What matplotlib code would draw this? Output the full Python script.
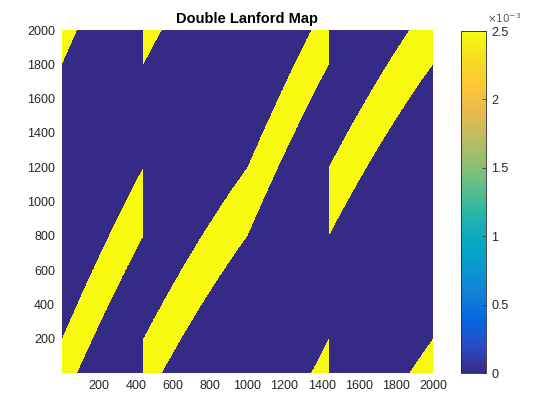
import numpy as np
import matplotlib.pyplot as plt
from matplotlib.colors import LinearSegmentedColormap
from matplotlib.ticker import FuncFormatter

plt.rcParams['font.family'] = ['Liberation Sans', 'DejaVu Sans']

# grid size of the discretised operator and noise half-width (in cells)
n_cells = 2000
noise_half = 200
# Lanford map L(x) = 2x + x(1-x)/2 mod 1, applied on each half of [0,1]
lanford_a = 2.0
lanford_b = 0.5

x_ticks = [200, 400, 600, 800, 1000, 1200, 1400, 1600, 1800, 2000]
y_ticks = [200, 400, 600, 800, 1000, 1200, 1400, 1600, 1800, 2000]
cbar_ticks = [0, 0.5e-3, 1e-3, 1.5e-3, 2e-3, 2.5e-3]
clim = (0, 2.5e-3)

# parula (R2014b) anchors
parula_pts = [
    (0.2081, 0.1663, 0.5292), (0.1707, 0.2919, 0.7792), (0.0060, 0.4086, 0.8828),
    (0.0779, 0.5040, 0.8384), (0.0343, 0.5966, 0.8199), (0.0267, 0.6642, 0.7607),
    (0.1453, 0.7098, 0.6646), (0.3482, 0.7424, 0.5473), (0.5709, 0.7485, 0.4494),
    (0.7525, 0.7384, 0.3768), (0.9139, 0.7258, 0.3063), (0.9955, 0.7861, 0.1967),
    (0.9626, 0.8705, 0.1309), (0.9763, 0.9831, 0.0538),
]
parula = LinearSegmentedColormap.from_list('parula', parula_pts, N=256)


def lanford(x):
    return np.mod(lanford_a * x + lanford_b * x * (1 - x), 1.0)


def double_lanford(u):
    half = np.floor(2 * u)
    return lanford(np.mod(2 * u, 1.0)) / 2 + half / 2


# transition matrix: column j -> rows within +-noise_half of image (wrapping)
u = (np.arange(n_cells) + 0.5) / n_cells
centre = double_lanford(u) * n_cells
rows = np.arange(n_cells)[:, None] + 0.5
d = np.mod(rows - centre[None, :] + n_cells / 2, n_cells) - n_cells / 2
P = np.where((d >= -noise_half) & (d < noise_half), 1.0 / (2 * noise_half), 0.0)

fig = plt.figure(figsize=(5.6, 4.2), dpi=100)
ax = fig.add_axes([62 / 560, 47 / 420, 371 / 560, 343 / 420])
im = ax.imshow(P, cmap=parula, vmin=clim[0], vmax=clim[1], origin='lower',
               extent=[0.5, n_cells + 0.5, 0.5, n_cells + 0.5], aspect='auto',
               interpolation='nearest')
ax.set_xticks(x_ticks)
ax.set_yticks(y_ticks)
ax.tick_params(length=0, labelsize=9, colors='#262626', pad=5)
for s in ax.spines.values():
    s.set_visible(False)
ax.set_title('Double Lanford Map', fontsize=10.5, fontweight='bold', pad=5)

cax = fig.add_axes([461 / 560, 47 / 420, 25.5 / 560, 342 / 420])
cb = fig.colorbar(im, cax=cax, ticks=cbar_ticks)
cb.formatter = FuncFormatter(lambda v, p: '%g' % round(v * 1e3, 6))
cb.update_ticks()
cax.tick_params(direction='in', length=3, labelsize=9, colors='#262626', width=0.5)
cb.outline.set_linewidth(0.6)
cb.outline.set_edgecolor('#262626')
fig.text(487 / 560, 1 - 25 / 420, r'$\times10^{-3}$', fontsize=7.5, color='#555555',
         ha='left', va='bottom')

fig.savefig('out.png', dpi=100)
